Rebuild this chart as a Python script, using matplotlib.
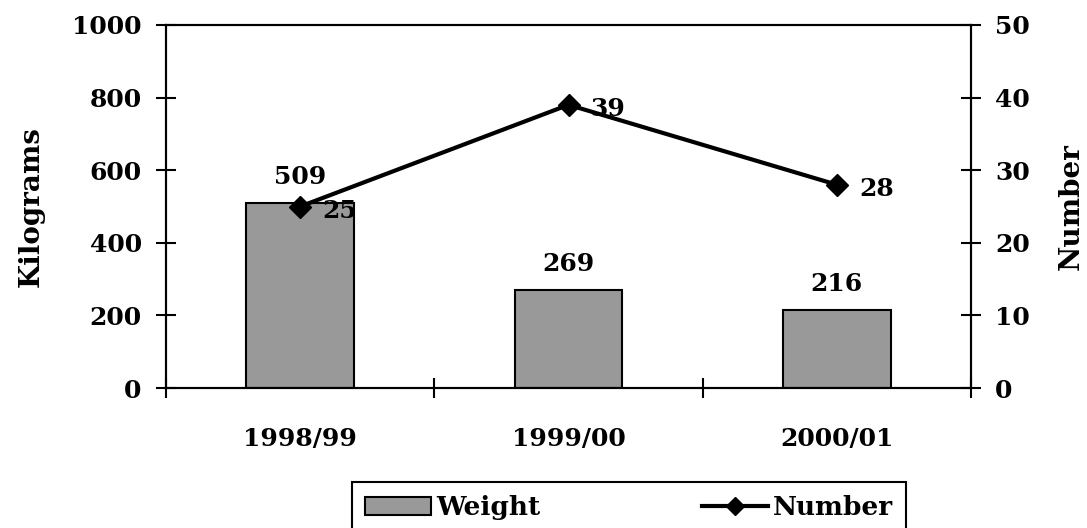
import numpy as np
import matplotlib
matplotlib.use('Agg')
import matplotlib.pyplot as plt
from matplotlib.patches import Patch
from matplotlib.lines import Line2D

years = ['1998/99', '1999/00', '2000/01']
weight = [509, 269, 216]
number = [25, 39, 28]
kg_ticks = [0, 200, 400, 600, 800, 1000]
num_ticks = [0, 10, 20, 30, 40, 50]

plt.rcParams['font.family'] = 'DejaVu Serif'
plt.rcParams['font.weight'] = 'bold'

fig = plt.figure(figsize=(10.87, 5.28), dpi=100)
ax = fig.add_axes([166 / 1087, 140 / 528, 805 / 1087, 363 / 528])
ax2 = ax.twinx()

x = np.arange(len(years))
ax.bar(x, weight, width=0.4, color='#999999', edgecolor='black', linewidth=1.5, zorder=2)
ax.set_xlim(-0.5, 2.5)
ax.set_ylim(0, 1000)
ax.set_yticks(kg_ticks)
ax.set_xticks(np.arange(-0.5, 3, 1))
ax.set_xticklabels([])
ax.set_xticks(x, minor=True)
ax.set_xticklabels(years, minor=True, fontsize=18, fontweight='bold')
ax.tick_params(axis='x', which='major', direction='inout', length=14, width=1.5)
ax.tick_params(axis='x', which='minor', length=0, pad=28)
ax.tick_params(axis='y', direction='inout', length=15, width=1.5, labelsize=18, pad=10)
ax.set_ylabel('Kilograms', fontsize=20, fontweight='bold', labelpad=20)

for xi, w in zip(x, weight):
    ax.annotate(str(w), (xi, w), xytext=(0, 10), textcoords='offset points',
                ha='center', va='bottom', fontsize=18, fontweight='bold')

ax2.plot(x, number, color='black', linewidth=3, marker='D', markersize=11, zorder=3)
ax2.set_ylim(0, 50)
ax2.set_yticks(num_ticks)
ax2.tick_params(axis='y', direction='inout', length=15, width=1.5, labelsize=18, pad=10)
ax2.set_ylabel('Number', fontsize=20, fontweight='bold', labelpad=20)

for xi, n in zip(x, number):
    ax2.annotate(str(n), (xi, n), xytext=(16, -3), textcoords='offset points',
                 ha='left', va='center', fontsize=18, fontweight='bold')

for a in (ax, ax2):
    for s in a.spines.values():
        s.set_linewidth(1.5)

handles = [Patch(facecolor='#999999', edgecolor='black', linewidth=1.5),
           Line2D([0], [0], color='black', linewidth=3, marker='D', markersize=9)]
leg = fig.legend(handles, ['Weight', 'Number'], loc='upper left', ncol=2,
                 bbox_to_anchor=(352 / 1087, 1 - 482 / 528), fontsize=19, frameon=True,
                 fancybox=False, edgecolor='black', framealpha=1, columnspacing=6.1,
                 handlelength=2.5, handletextpad=0.2, borderpad=0.5, borderaxespad=0)
leg.get_frame().set_linewidth(1.5)
for t in leg.get_texts():
    t.set_fontweight('bold')

plt.savefig('out.png', dpi=100)
plt.close()
